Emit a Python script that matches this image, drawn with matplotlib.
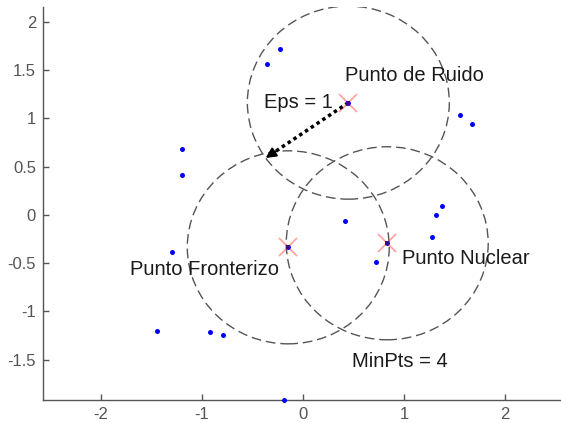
import numpy as np
import matplotlib
matplotlib.use("Agg")
import matplotlib.pyplot as plt
from matplotlib.patches import Circle

# ---- data ----
pts_x = [-0.36, -0.23, 0.45, -1.20, -1.20, 1.555, 1.676, -0.145, 0.835, 0.42,
         0.72, 1.376, 1.317, 1.277, -1.297, -1.446, -0.92, -0.79, -0.185]
pts_y = [1.565, 1.72, 1.164, 0.68, 0.41, 1.036, 0.946, -0.335, -0.293, -0.065,
         -0.49, 0.093, 0.003, -0.225, -0.383, -1.199, -1.209, -1.247, -1.92]

noise_pt = (0.45, 1.164)
border_pt = (-0.145, -0.335)
core_pt = (0.835, -0.293)
eps = 1.0
arrow_angle_deg = 215.0

x_ticks = [-2, -1, 0, 1, 2]
y_ticks = [-1.5, -1, -0.5, 0, 0.5, 1, 1.5, 2]
y_ticklabels = ["-1.5", "-1", "-0.5", "0", "0.5", "1", "1.5", "2"]

labels = [
    ("Punto de Ruido", 0.416, 1.45),
    ("Eps = 1", -0.386, 1.17),
    ("Punto Fronterizo", -1.713, -0.56),
    ("Punto Nuclear", 0.98, -0.446),
    ("MinPts = 4", 0.485, -1.523),
]

plt.rcParams['font.family'] = ['Liberation Sans', 'DejaVu Sans']

fig = plt.figure(figsize=(5.61, 4.23), dpi=100)
ax = fig.add_axes([43 / 561, 23 / 423, 1 - 43 / 561, (400 - 7) / 423])
ax.set_xlim(-2.574, 2.556)
ax.set_ylim(-1.917, 2.155)

for s in ['top', 'right']:
    ax.spines[s].set_visible(False)
for s in ['left', 'bottom']:
    ax.spines[s].set_color('#555555')
    ax.spines[s].set_linewidth(1.0)

ax.set_xticks(x_ticks)
ax.set_xticklabels([str(t) for t in x_ticks])
ax.set_yticks(y_ticks)
ax.set_yticklabels(y_ticklabels)
ax.tick_params(direction='in', length=4, width=1, color='#555555',
               labelcolor='#555555', labelsize=12, pad=5)

# circles of radius eps
for c in [noise_pt, border_pt, core_pt]:
    ax.add_patch(Circle(c, eps, fill=False, edgecolor='#555555', lw=1.0,
                        linestyle=(0, (7, 3.5)), zorder=2))

# points
ax.plot(pts_x, pts_y, 'o', color='#0000ff', markersize=3.6,
        markeredgewidth=0, clip_on=False, zorder=3)

# X markers
for c in [noise_pt, border_pt, core_pt]:
    ax.plot(c[0], c[1], 'x', color='#ff5050', alpha=0.55, markersize=13,
            markeredgewidth=1.2, zorder=4)
    ax.plot(c[0], c[1], 's', color='#3a0a90', markersize=3.5,
            markeredgewidth=0, zorder=5)

# eps arrow
ang = np.deg2rad(arrow_angle_deg)
end = (noise_pt[0] + eps * np.cos(ang), noise_pt[1] + eps * np.sin(ang))
frac = 0.88
mid = (noise_pt[0] + frac * eps * np.cos(ang), noise_pt[1] + frac * eps * np.sin(ang))
ax.plot([noise_pt[0], mid[0]], [noise_pt[1], mid[1]], linestyle=(0, (1, 1)),
        color='black', lw=2.5, zorder=4)
ax.annotate('', xy=end, xytext=mid,
            arrowprops=dict(arrowstyle='-|>,head_length=0.6,head_width=0.3',
                            color='black', lw=1.5, shrinkA=0, shrinkB=0),
            zorder=4)

for txt, tx, ty in labels:
    ax.text(tx, ty, txt, fontsize=14.5, color='#1a1a1a', ha='left', va='center',
            zorder=6)

fig.savefig('out.png', dpi=100)
